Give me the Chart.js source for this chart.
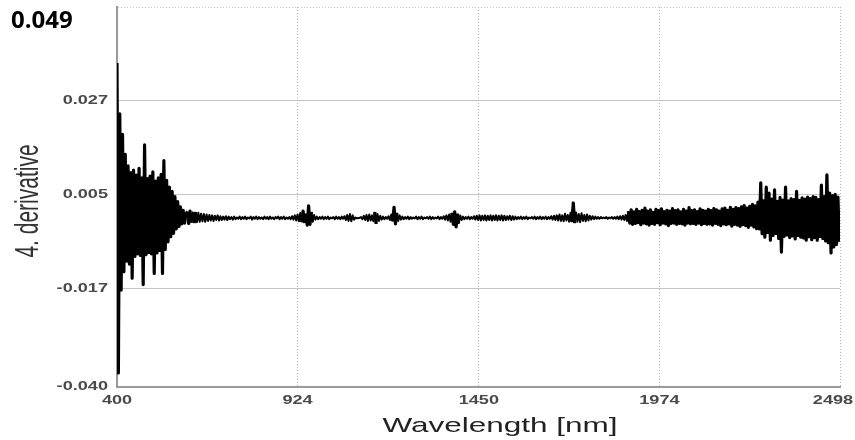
<!DOCTYPE html>
<html>
<head>
<meta charset="utf-8">
<script src="https://cdn.jsdelivr.net/npm/chart.js@4/dist/chart.umd.min.js"></script>
<style>
    html, body { margin: 0; padding: 0; background: #fff; }
    #wrap { width: 855px; height: 440px; }
</style>
</head>
<body>
<div id="wrap"><canvas id="specChart" width="855" height="440"></canvas></div>
<script>
// spectrum sampling grid (nm)
const wlStart = 400;
const wlStep = 4;

// 4th derivative, 400-600 nm (noisy detector edge)
const derivLeft = [
    0.0359, -0.0367, 0.0240, -0.0173, 0.0192, -0.0130, 0.0145, -0.0105, 0.0118, -0.0112,
    0.0102, -0.0145, 0.0108, -0.0094, 0.0096, -0.0088, 0.0112, -0.0092, 0.0090, -0.0160,
    0.0167, -0.0090, 0.0088, -0.0085, 0.0094, -0.0088, 0.0104, -0.0134, 0.0082, -0.0086,
    0.0090, -0.0080, 0.0098, -0.0134, 0.0130, -0.0078, 0.0084, -0.0060, 0.0068, -0.0048,
    0.0058, -0.0040, 0.0046, -0.0030, 0.0034, -0.0024, 0.0022, -0.0018, 0.0014, -0.0016,
    0.0010
];

// 604-1880 nm, quiet part with a few small bands
const derivMid = [
    0.0011, -0.0017, 0.0012, -0.0015, 0.0009, -0.0016, 0.0010, -0.0014, 0.0008, -0.0013,
    0.0006, -0.0012, 0.0005, -0.0013, 0.0004, -0.0011, 0.0003, -0.0010, 0.0002, -0.0011,
    0.0001, -0.0009, 0.0002, -0.0010, 0.0000, -0.0009, -0.0001, -0.0008, 0.0000, -0.0009,
    -0.0001, -0.0007, -0.0002, -0.0008, -0.0001, -0.0007, -0.0003, -0.0006, -0.0001, -0.0007,
    -0.0002, -0.0006, -0.0001, -0.0007, -0.0003, -0.0005, -0.0001, -0.0008, -0.0002, -0.0006,
    -0.0001, -0.0007, -0.0002, -0.0006, -0.0003, -0.0007, -0.0001, -0.0006, -0.0002, -0.0007,
    -0.0001, -0.0006, -0.0003, -0.0007, -0.0002, -0.0005, -0.0001, -0.0007, -0.0002, -0.0006,
    -0.0001, -0.0007, -0.0003, -0.0006, -0.0002, -0.0007, 0.0000, -0.0008, 0.0002, -0.0010,
    0.0004, -0.0012, 0.0008, -0.0014, 0.0012, -0.0016, 0.0006, -0.0021, 0.0024, -0.0019,
    0.0010, -0.0013, 0.0003, -0.0008, -0.0001, -0.0007, -0.0002, -0.0006, -0.0001, -0.0007,
    -0.0002, -0.0006, -0.0001, -0.0007, -0.0003, -0.0005, -0.0002, -0.0007, -0.0001, -0.0006,
    -0.0002, -0.0007, -0.0001, -0.0006, 0.0000, -0.0009, 0.0003, -0.0011, 0.0005, -0.0012,
    0.0002, -0.0008, -0.0003, -0.0005, -0.0004, -0.0004, -0.0002, -0.0007, 0.0001, -0.0009,
    0.0003, -0.0011, 0.0004, -0.0010, 0.0002, -0.0012, 0.0010, -0.0018, 0.0005, -0.0011,
    0.0001, -0.0008, -0.0001, -0.0007, -0.0002, -0.0006, 0.0000, -0.0009, 0.0004, -0.0012,
    0.0021, -0.0018, 0.0008, -0.0011, 0.0002, -0.0008, -0.0001, -0.0007, -0.0002, -0.0006,
    -0.0001, -0.0007, -0.0002, -0.0006, -0.0003, -0.0005, -0.0001, -0.0007, -0.0002, -0.0006,
    -0.0001, -0.0007, -0.0003, -0.0005, -0.0002, -0.0006, -0.0001, -0.0007, -0.0002, -0.0006,
    -0.0003, -0.0005, -0.0001, -0.0007, -0.0002, -0.0006, 0.0000, -0.0008, 0.0002, -0.0010,
    0.0004, -0.0013, 0.0008, -0.0019, 0.0010, -0.0025, 0.0006, -0.0016, 0.0002, -0.0009,
    -0.0001, -0.0007, -0.0002, -0.0006, -0.0001, -0.0007, -0.0002, -0.0006, 0.0000, -0.0008,
    0.0001, -0.0009, 0.0002, -0.0010, 0.0001, -0.0009, 0.0002, -0.0010, 0.0001, -0.0009,
    0.0002, -0.0010, 0.0001, -0.0009, 0.0002, -0.0010, 0.0001, -0.0009, 0.0002, -0.0010,
    0.0001, -0.0009, 0.0000, -0.0008, 0.0001, -0.0009, 0.0000, -0.0008, -0.0001, -0.0007,
    -0.0002, -0.0006, -0.0001, -0.0007, -0.0002, -0.0006, -0.0001, -0.0007, -0.0003, -0.0005,
    -0.0002, -0.0006, -0.0001, -0.0007, -0.0002, -0.0006, -0.0001, -0.0007, -0.0002, -0.0006,
    -0.0001, -0.0007, -0.0002, -0.0006, 0.0000, -0.0008, 0.0001, -0.0009, 0.0002, -0.0010,
    0.0004, -0.0011, 0.0002, -0.0012, 0.0006, -0.0010, 0.0003, -0.0013, 0.0008, -0.0014,
    0.0031, -0.0016, 0.0009, -0.0013, 0.0005, -0.0014, 0.0007, -0.0011, 0.0003, -0.0012,
    0.0004, -0.0010, 0.0001, -0.0008, 0.0000, -0.0007, -0.0001, -0.0006, -0.0002, -0.0006,
    -0.0002, -0.0005, -0.0003, -0.0005, -0.0002, -0.0006, -0.0003, -0.0005, -0.0002, -0.0006,
    -0.0002, -0.0006, -0.0001, -0.0007, 0.0000, -0.0008, 0.0001, -0.0009, 0.0003, -0.0011
];

// 1884-2260 nm, noise slowly rising
const derivRise = [
    0.0012, -0.0016, 0.0015, -0.0019, 0.0010, -0.0017, 0.0016, -0.0015, 0.0011, -0.0020,
    0.0014, -0.0016, 0.0019, -0.0018, 0.0012, -0.0021, 0.0015, -0.0017, 0.0009, -0.0019,
    0.0016, -0.0015, 0.0013, -0.0020, 0.0017, -0.0016, 0.0011, -0.0018, 0.0014, -0.0022,
    0.0012, -0.0017, 0.0018, -0.0016, 0.0013, -0.0019, 0.0015, -0.0017, 0.0010, -0.0018,
    0.0016, -0.0021, 0.0012, -0.0016, 0.0020, -0.0018, 0.0013, -0.0017, 0.0015, -0.0019,
    0.0011, -0.0016, 0.0017, -0.0020, 0.0014, -0.0017, 0.0012, -0.0019, 0.0016, -0.0018,
    0.0013, -0.0021, 0.0018, -0.0017, 0.0015, -0.0019, 0.0012, -0.0022, 0.0017, -0.0018,
    0.0019, -0.0020, 0.0014, -0.0018, 0.0021, -0.0023, 0.0016, -0.0019, 0.0020, -0.0021,
    0.0018, -0.0024, 0.0022, -0.0020, 0.0025, -0.0022, 0.0019, -0.0026, 0.0023, -0.0021,
    0.0028, -0.0025, 0.0024, -0.0029, 0.0033
];

// 2264-2496 nm, noisy end of the range
const derivRight = [
    -0.0030, 0.0078, -0.0041, 0.0036, -0.0049, 0.0068, -0.0038, 0.0054, -0.0056, 0.0040,
    -0.0045, 0.0062, -0.0040, 0.0035, -0.0052, 0.0044, -0.0084, 0.0038, -0.0047, 0.0068,
    -0.0044, 0.0036, -0.0050, 0.0041, -0.0046, 0.0039, -0.0053, 0.0058, -0.0045, 0.0037,
    -0.0049, 0.0043, -0.0051, 0.0040, -0.0056, 0.0045, -0.0048, 0.0041, -0.0055, 0.0046,
    -0.0050, 0.0044, -0.0056, 0.0039, -0.0047, 0.0073, -0.0052, 0.0046, -0.0058, 0.0097,
    -0.0062, 0.0054, -0.0086, 0.0048, -0.0072, 0.0051, -0.0066, 0.0045, -0.0060
];

const xTicks = [400, 924, 1450, 1974, 2498];
const yTicks = [-0.040, -0.017, 0.005, 0.027, 0.049];
const xTitle = 'Wavelength [nm]';
const yTitle = '4. derivative';

const deriv = [...derivLeft, ...derivMid, ...derivRise, ...derivRight];
const points = deriv.map((v, i) => ({ x: wlStart + i * wlStep, y: v }));

// the labels in this plot are wide, so they are drawn stretched
function wideText(ctx, text, x, y, font, color, align, sx, rotated) {
    ctx.save();
    ctx.translate(x, y);
    ctx.scale(sx, 1);
    if (rotated) ctx.rotate(-Math.PI / 2);
    ctx.font = font;
    ctx.fillStyle = color;
    ctx.textAlign = align;
    ctx.textBaseline = 'middle';
    ctx.fillText(text, 0, 0);
    ctx.restore();
}

const axisText = {
    id: 'axisText',
    afterDraw(chart) {
        const ctx = chart.ctx;
        const xs = chart.scales.x, ys = chart.scales.y;
        const tickFont = 'bold 12.5px "Liberation Sans", Arial, sans-serif';

        yTicks.slice(0, -1).forEach(v => {
            wideText(ctx, v.toFixed(3), 108, ys.getPixelForValue(v), tickFont, '#4a4a4a', 'right', 1.45);
        });
        xTicks.forEach(v => {
            const px = Math.min(xs.getPixelForValue(v), 833);
            wideText(ctx, String(v), px, 401, tickFont, '#4a4a4a', 'center', 1.45);
        });

        wideText(ctx, xTitle, 500, 426, '21px "Liberation Sans", Arial, sans-serif', '#222', 'center', 1.5);
        wideText(ctx, yTitle, 29, 201, '21px "Liberation Sans", Arial, sans-serif', '#333', 'center', 1.55, true);

        // top of the value range, written large
        ctx.save();
        ctx.font = 'bold 24px "Open Sans", sans-serif';
        ctx.fillStyle = '#000';
        ctx.textAlign = 'left';
        ctx.textBaseline = 'middle';
        ctx.fillText(yTicks[yTicks.length - 1].toFixed(3), 11, 21);
        ctx.restore();
    }
};

// wide swings get a heavier stroke so the noise band reads as solid
const swingWidth = c => (Math.abs(c.p0.parsed.y - c.p1.parsed.y) > 0.0025 ? 3.2 : 2);

new Chart(document.getElementById('specChart'), {
    type: 'line',
    data: {
        datasets: [{
            data: points,
            borderColor: '#000',
            borderWidth: 2,
            borderJoinStyle: 'round',
            pointRadius: 0,
            tension: 0,
            fill: false,
            segment: { borderWidth: swingWidth }
        }]
    },
    options: {
        responsive: false,
        animation: false,
        events: [],
        layout: { padding: { top: 7, right: 15, left: 0, bottom: 0 } },
        plugins: { legend: { display: false }, tooltip: { enabled: false } },
        scales: {
            x: {
                type: 'linear',
                min: 400,
                max: 2498,
                afterBuildTicks: s => { s.ticks = xTicks.map(v => ({ value: v })); },
                afterFit: s => { s.height = 53; },
                ticks: { display: false },
                grid: { color: '#b5b5b5', lineWidth: 1, drawTicks: false },
                border: { display: true, color: '#9a9a9a', width: 2, dash: [1, 2] }
            },
            y: {
                min: -0.040,
                max: 0.049,
                afterBuildTicks: s => { s.ticks = yTicks.map(v => ({ value: v })); },
                afterFit: s => { s.width = 117; },
                ticks: { display: false },
                grid: { color: '#c4c4c4', lineWidth: 1, drawTicks: false },
                border: {
                    display: true, color: '#9a9a9a', width: 2,
                    dash: ctx => (ctx.tick && ctx.tick.value === 0.049 ? [1, 2] : [])
                }
            }
        }
    },
    plugins: [axisText]
});
</script>
</body>
</html>
